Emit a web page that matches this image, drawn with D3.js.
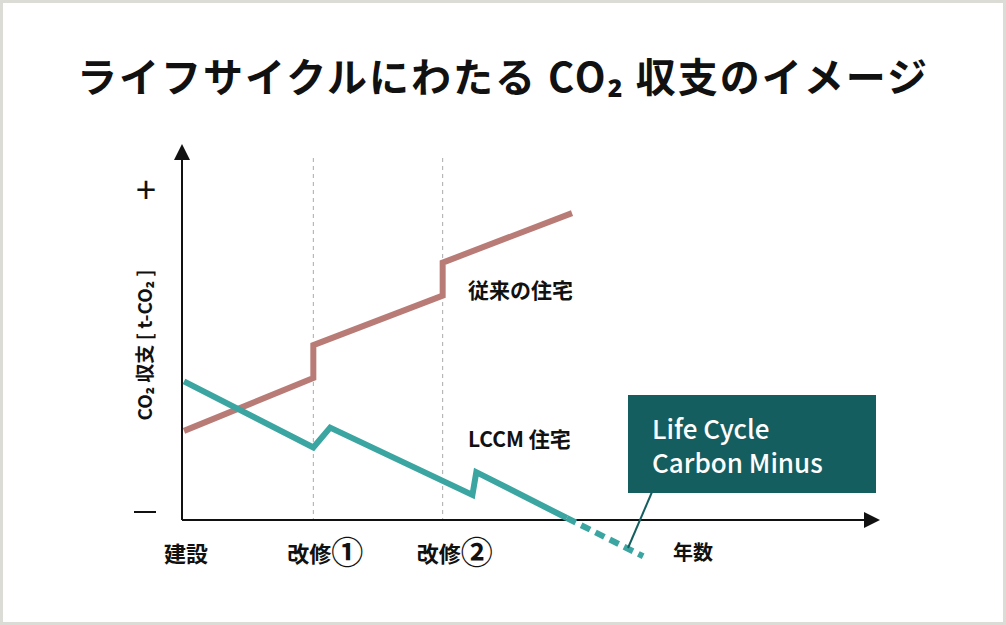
<!DOCTYPE html>
<html><head><meta charset="utf-8">
<script src="https://cdn.jsdelivr.net/npm/d3@7"></script>
<style>body{margin:0;background:#fff;font-family:"Noto Sans CJK JP","Noto Sans",sans-serif;}</style>
</head><body><div id="viz"></div>
<script>
// years (x) and CO2 balance (y, arbitrary units)
let conventional = [[0,27],[1,43],[1,53],[2,68],[2,78],[3,93]];
let lccmSolid = [[0,42],[1,22],[1.13,28],[2.23,7.6],[2.26,14.5],[2.96,0.6]];
let lccmDashed = [[2.96,0.6],[3.55,-11]];
let renovations = [1,2];
let xLabels = [{t:"建設",c:"",v:0},{t:"改修",c:"①",v:1},{t:"改修",c:"②",v:2}];

let w = 1006, h = 625;
let svg = d3.select("#viz").append("svg").attr("width", w).attr("height", h);

svg.append("rect").attr("x",1.5).attr("y",1.5).attr("width",w-3).attr("height",h-3)
  .attr("fill","#fff").attr("stroke","#dcdcd6").attr("stroke-width",3);

svg.append("text").attr("x",503).attr("y",92).attr("text-anchor","middle")
  .attr("font-size",40).attr("font-weight",700).attr("letter-spacing",2).attr("fill","#111")
  .text("ライフサイクルにわたる CO₂ 収支のイメージ");

let x = d3.scaleLinear().domain([0,3]).range([184,572]);
let y = d3.scaleLinear().domain([0,100]).range([520,190]);

// dashed renovation lines
svg.selectAll(".ren").data(renovations).enter().append("line")
  .attr("x1",d=>x(d)).attr("x2",d=>x(d)).attr("y1",158).attr("y2",520)
  .attr("stroke","#aaa").attr("stroke-dasharray","4,4");

// axes
svg.append("line").attr("x1",182).attr("x2",868).attr("y1",520).attr("y2",520).attr("stroke","#111").attr("stroke-width",2);
svg.append("line").attr("x1",182).attr("x2",182).attr("y1",158).attr("y2",520).attr("stroke","#111").attr("stroke-width",2);
svg.append("path").attr("d","M174,160 L182,144 L190,160 Z").attr("fill","#111");
svg.append("path").attr("d","M864,512 L880,520 L864,528 Z").attr("fill","#111");

svg.append("text").attr("x",146).attr("y",203).attr("text-anchor","middle").attr("font-size",36).attr("fill","#111").text("+");
svg.append("line").attr("x1",134).attr("x2",156).attr("y1",512).attr("y2",512).attr("stroke","#111").attr("stroke-width",2);

svg.append("text").attr("transform","translate(152,345) rotate(-90)").attr("text-anchor","middle")
  .attr("font-size",19).attr("font-weight",700).attr("fill","#111").text("CO₂ 収支 [ t-CO₂ ]");

let line = d3.line().x(d=>x(d[0])).y(d=>y(d[1]));
svg.append("path").datum(conventional).attr("d",line).attr("fill","none").attr("stroke","#b97b76").attr("stroke-width",6);
svg.append("path").datum(lccmSolid).attr("d",line).attr("fill","none").attr("stroke","#3aa5a1").attr("stroke-width",6);
svg.append("path").datum(lccmDashed).attr("d",line).attr("fill","none").attr("stroke","#3aa5a1").attr("stroke-width",6).attr("stroke-dasharray","10,6");

let xl = svg.selectAll(".xl").data(xLabels).enter().append("text")
  .attr("x",(d,i)=>i==0?x(d.v)+2:x(d.v)+12).attr("y",562).attr("text-anchor","middle")
  .attr("font-weight",700).attr("fill","#111");
xl.append("tspan").attr("font-size",22).text(d=>d.t);
xl.append("tspan").attr("font-size",32).attr("dy",2).text(d=>d.c);
svg.append("text").attr("x",693).attr("y",560).attr("text-anchor","middle").attr("font-size",20).attr("font-weight",700).attr("fill","#111").text("年数");

svg.append("text").attr("x",468).attr("y",298).attr("font-size",21).attr("font-weight",700).attr("fill","#111").text("従来の住宅");
svg.append("text").attr("x",468).attr("y",447).attr("font-size",21).attr("font-weight",700).attr("fill","#111").text("LCCM 住宅");

// callout
svg.append("line").attr("x1",652).attr("y1",492).attr("x2",628).attr("y2",548).attr("stroke","#155e5f").attr("stroke-width",2);
svg.append("rect").attr("x",628).attr("y",395).attr("width",248).attr("height",98).attr("fill","#155e5f");
svg.append("text").attr("x",652).attr("y",439).attr("font-size",26).attr("font-weight",500).attr("fill","#fff").text("Life Cycle");
svg.append("text").attr("x",652).attr("y",473).attr("font-size",26).attr("font-weight",500).attr("fill","#fff").text("Carbon Minus");
</script></body></html>
